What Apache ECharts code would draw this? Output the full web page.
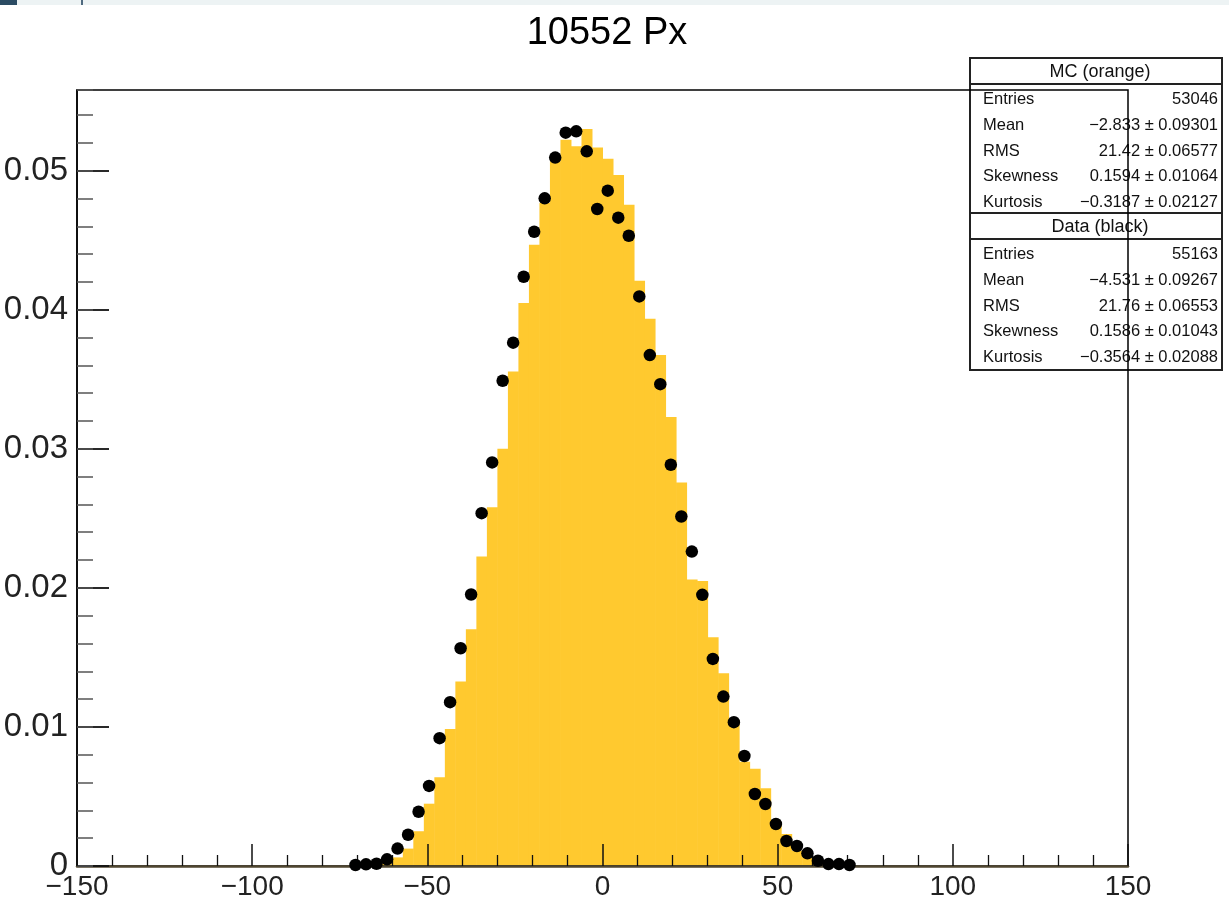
<!DOCTYPE html>
<html>
<head>
<meta charset="utf-8">
<script src="https://cdn.jsdelivr.net/npm/echarts@6/dist/echarts.min.js"></script>
<style>
html,body{margin:0;padding:0;background:#fff;}
#chart{width:1229px;height:902px;}
</style>
</head>
<body>
<div id="chart"></div>
<script>
const titleText = '10552 Px';
const binWidth = 3;
const xTicks = { min: -150, max: 150, interval: 50 };
const yTicks = { min: 0, max: 0.0558, interval: 0.01, minor: 0.002 };

const mcCenters = [-61.5,-58.5,-55.5,-52.5,-49.5,-46.5,-43.5,-40.5,-37.5,-34.5,-31.5,-28.5,-25.5,-22.5,-19.5,-16.5,-13.5,-10.5,-7.5,-4.5,-1.5,
  1.5,4.5,7.5,10.5,13.5,16.5,19.5,22.5,25.5,28.5,31.5,34.5,37.5,40.5,43.5,46.5,49.5,52.5,55.5,58.5,61.5];
const mcValues = [0.0002,0.00062,0.00125,0.0025,0.00448,0.00638,0.00985,0.01326,0.01703,0.02225,0.0258,0.0300,0.03556,0.04048,0.04468,0.04767,0.05067,0.05223,0.05175,0.0530,0.05167,
  0.05085,0.04968,0.04755,0.04209,0.03935,0.03674,0.03228,0.02758,0.0206,0.0205,0.01645,0.01386,0.0105,0.0075,0.0070,0.00559,0.0030,0.0023,0.0011,0.0006,0.0002];

const dataCenters = [-70.5,-67.5,-64.5,-61.5,-58.5,-55.5,-52.5,-49.5,-46.5,-43.5,-40.5,-37.5,-34.5,-31.5,-28.5,-25.5,-22.5,-19.5,-16.5,-13.5,-10.5,-7.5,-4.5,-1.5,
  1.5,4.5,7.5,10.5,13.5,16.5,19.5,22.5,25.5,28.5,31.5,34.5,37.5,40.5,43.5,46.5,49.5,52.5,55.5,58.5,61.5,64.5,67.5,70.5];
const dataValues = [0.00007,0.00012,0.00016,0.00048,0.00125,0.00225,0.0039,0.00576,0.00919,0.01178,0.01566,0.01952,0.02537,0.02902,0.03489,0.03763,0.04237,0.04561,0.04801,0.05094,0.05273,0.05283,0.05139,0.04724,
  0.04856,0.04662,0.04532,0.04096,0.03674,0.03465,0.02885,0.02513,0.02261,0.0195,0.01489,0.01218,0.01034,0.00791,0.00518,0.00446,0.00302,0.0018,0.00144,0.00091,0.00038,0.00014,0.00014,0.00007];

const statLabels = ['Entries','Mean','RMS','Skewness','Kurtosis'];
const mcTitle = 'MC (orange)';
const mcStats = ['53046','\u22122.833 \u00b1 0.09301','21.42 \u00b1 0.06577','0.1594 \u00b1 0.01064','\u22120.3187 \u00b1 0.02127'];
const dataTitle = 'Data (black)';
const dataStats = ['55163','\u22124.531 \u00b1 0.09267','21.76 \u00b1 0.06553','0.1586 \u00b1 0.01043','\u22120.3564 \u00b1 0.02088'];

const FONT = '"Liberation Sans", Arial, Helvetica, sans-serif';
const chart = echarts.init(document.getElementById('chart'));

function statsBox(top, title, values) {
  const L = 970, R = 1222, headH = 26, rowH = 25.8;
  const h = headH + rowH * 5 + 2;
  const els = [];
  els.push({ type: 'rect', shape: { x: L, y: top, width: R - L, height: h }, style: { fill: '#fff', stroke: '#222', lineWidth: 2 } });
  els.push({ type: 'line', shape: { x1: L, y1: top + headH, x2: R, y2: top + headH }, style: { stroke: '#222', lineWidth: 2 } });
  els.push({ type: 'text', x: (L + R) / 2 + 4, y: top + headH / 2 + 1, style: { text: title, font: '18px ' + FONT, fill: '#111', align: 'center', verticalAlign: 'middle' } });
  for (let i = 0; i < statLabels.length; i++) {
    const cy = top + headH + rowH * (i + 0.6);
    els.push({ type: 'text', x: L + 13, y: cy, style: { text: statLabels[i], font: '16.5px ' + FONT, fill: '#111', verticalAlign: 'middle' } });
    els.push({ type: 'text', x: R - 4, y: cy, style: { text: values[i], font: '16.5px ' + FONT, fill: '#111', align: 'right', verticalAlign: 'middle' } });
  }
  return els;
}

const minus = v => String(v).replace('-', '\u2212');

const option = {
  backgroundColor: '#fff',
  animation: false,
  title: {
    text: titleText, left: 602, textAlign: 'center', top: 10,
    textStyle: { fontSize: 38, fontWeight: 'normal', color: '#000', fontFamily: FONT }
  },
  grid: { left: 77, right: 101, top: 90, bottom: 36, show: true, borderColor: '#000', borderWidth: 1.5, z: 3 },
  xAxis: {
    type: 'value', min: xTicks.min, max: xTicks.max, interval: xTicks.interval, z: 3,
    axisLine: { show: true, onZero: false, lineStyle: { color: '#4f4630', width: 2.5 } },
    axisTick: { show: true, inside: true, length: 22, lineStyle: { color: '#111', width: 1.5 } },
    minorTick: { show: true, splitNumber: 5, length: 11, lineStyle: { color: '#111', width: 1.3 } },
    axisLabel: { fontSize: 28, color: '#222', margin: 7, fontFamily: FONT, formatter: v => minus(v) },
    splitLine: { show: false }, minorSplitLine: { show: false }
  },
  yAxis: [
    {
      type: 'value', min: yTicks.min, max: yTicks.max, interval: yTicks.interval, z: 3, position: 'left',
      axisLine: { show: true, onZero: false, lineStyle: { color: '#000', width: 1.5 } },
      axisTick: { show: true, inside: true, length: 32, lineStyle: { color: '#111', width: 1.8 } },
      axisLabel: { fontSize: 33, color: '#222', margin: 9, fontFamily: FONT, showMaxLabel: false,
        formatter: v => v === 0 ? '0' : v.toFixed(2) },
      splitLine: { show: false }
    },
    {
      type: 'value', min: yTicks.min, max: yTicks.max, interval: yTicks.minor, z: 3, position: 'left',
      axisLine: { show: false, onZero: false },
      axisTick: { show: true, inside: true, length: 16, lineStyle: { color: '#555', width: 1.5 } },
      axisLabel: { show: false },
      splitLine: { show: false }
    }
  ],
  series: [
    {
      type: 'custom', name: 'MC', z: 1,
      data: mcCenters.map((c, i) => [c, mcValues[i]]),
      renderItem: (params, api) => {
        const c = api.value(0), v = api.value(1);
        const p0 = api.coord([c - binWidth / 2, v]);
        const p1 = api.coord([c + binWidth / 2, 0]);
        return { type: 'rect', shape: { x: p0[0], y: p0[1], width: p1[0] - p0[0] + 0.5, height: p1[1] - p0[1] },
          style: { fill: '#ffc92f' } };
      }
    },
    {
      type: 'scatter', name: 'Data', z: 5, clip: false,
      data: dataCenters.map((c, i) => [c, dataValues[i]]),
      symbol: 'circle', symbolSize: 12.5,
      itemStyle: { color: '#000', opacity: 1 }
    }
  ],
  graphic: [
    { type: 'rect', shape: { x: 0, y: 0, width: 1229, height: 5 }, style: { fill: '#edf3f4' }, z: 10 },
    { type: 'rect', shape: { x: 0, y: 0, width: 17, height: 5 }, style: { fill: '#2b4b63' }, z: 10 },
    { type: 'rect', shape: { x: 81, y: 0, width: 2, height: 5 }, style: { fill: '#4f6a80' }, z: 10 },
    { type: 'group', z: 20, children: statsBox(58, mcTitle, mcStats).concat(statsBox(213, dataTitle, dataStats)) }
  ]
};
chart.setOption(option);
</script>
</body>
</html>
